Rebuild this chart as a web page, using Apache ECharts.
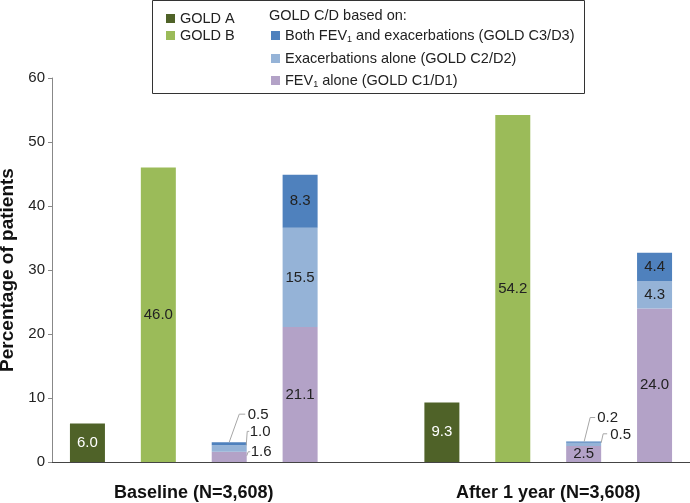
<!DOCTYPE html>
<html><head><meta charset="utf-8">
<script src="https://cdn.jsdelivr.net/npm/echarts@6/dist/echarts.min.js"></script>
<style>html,body{margin:0;padding:0;background:#fff}#c{width:690px;height:503px}</style>
</head><body><div id="c"></div>
<script>
// Categories (slot 4 is an empty spacer between the two groups)
const categories = ['A0','B0','C0','D0','gap','A1','B1','C1','D1'];
const groupLabels = ['', '', 'Baseline (N=3,608)', '', '', '', '', 'After 1 year (N=3,608)', '', ''];
const yTicks = [0, 10, 20, 30, 40, 50, 60];
// Series values
const goldA      = [6.0, null, null, null, null, 9.3, null, null, null];
const goldB      = [null, 46.0, null, null, null, null, 54.2, null, null];
const fev1Alone  = [null, null, 1.6, 21.1, null, null, null, 2.5, 24.0];
const exacAlone  = [null, null, 1.0, 15.5, null, null, null, 0.5, 4.3];
const bothFevExac= [null, null, 0.5, 8.3, null, null, null, 0.2, 4.4];

const nameA = 'GOLD A', nameB = 'GOLD B';
const nameBoth = 'Both FEV1 and exacerbations (GOLD C3/D3)';
const nameExac = 'Exacerbations alone (GOLD C2/D2)';
const nameFev = 'FEV1 alone (GOLD C1/D1)';
const colA = '#4f6228', colB = '#9bbb59', colBoth = '#4f81bd', colExac = '#95b3d7', colFev = '#b3a2c7';

const FONT = 'Liberation Sans, Arial';
const fmt = p => p.value == null ? '' : Number(p.value).toFixed(1);
const lbl = {show:true, position:'inside', color:'#222', fontSize:15, fontFamily:FONT, formatter: fmt};
const outside = {position:'right', distance:0};

// Label shifts for the small GOLD C bars (outside labels)
const moves = {
  fev1: {2:{dx:4, dy:-5}},
  exac: {2:{dx:3, dy:-17}, 7:{dx:9, dy:-10}},
  both: {2:{dx:1, dy:-29}, 7:{dx:-4, dy:-24}}
};
// Leader-line layout (pixel offsets from the top-centre of each segment)
const leaderLayout = {
  '2-fev1': [[17.5,4],[19,0],[21,0]],
  '2-exac': [[17,0],[18,-14],[20,-14]],
  '2-both': [[0,0],[10,-28],[16,-28]],
  '7-exac': [[17.5,0],[19.5,-9],[23.5,-9]],
  '7-both': [[0.5,0],[6.5,-24],[11.5,-24]]
};
function items(arr, outsideIdx) {
  return arr.map((v, i) => {
    if (v == null) return null;
    if (outsideIdx.includes(i)) return {value: v, label: outside};
    return v;
  });
}
function layoutFn(key) {
  return function(p) {
    const m = moves[key][p.dataIndex];
    return m ? {dx: m.dx, dy: m.dy} : {};
  };
}
// Leader data: [categoryIndex, stacked top value of the segment, key]
const leaderData = [];
[2, 7].forEach(i => {
  const tF = fev1Alone[i], tE = tF + exacAlone[i], tB = tE + bothFevExac[i];
  [['fev1', tF], ['exac', tE], ['both', tB]].forEach(([k, t]) => {
    if (leaderLayout[i + '-' + k]) leaderData.push([i, t, i + '-' + k]);
  });
});

const chart = echarts.init(document.getElementById('c'), null, {renderer:'canvas'});
const LF = 14.5;
const legendText = {fontSize:LF, color:'#222', fontFamily:FONT,
  rich:{t:{fontSize:LF, color:'#222', fontFamily:FONT}, s:{fontSize:9, color:'#222', fontFamily:FONT, padding:[8,0,0,0]}}};
function legendFmt(name) {
  if (name.indexOf('FEV1') >= 0) {
    const parts = name.split('FEV1');
    return '{t|' + parts[0] + 'FEV}{s|1}{t|' + parts[1] + '}';
  }
  return name;
}
chart.setOption({
  animation:false,
  grid:{left:52, right:0, top:78, bottom:41, containLabel:false, outerBoundsMode:'none'},
  legend:[
    {data:[nameA, nameB], orient:'vertical', left:161, top:6, itemWidth:9, itemHeight:9, itemGap:2,
     icon:'rect', textStyle:legendText, selectedMode:false},
    {data:[nameBoth, nameExac, nameFev], orient:'vertical', left:266, top:23, itemWidth:9, itemHeight:9, itemGap:7,
     icon:'rect', textStyle:legendText, formatter: legendFmt, selectedMode:false}
  ],
  graphic:[
    {type:'rect', shape:{x:152.5, y:0.5, width:432, height:93}, style:{fill:'none', stroke:'#333', lineWidth:1}, silent:true},
    {type:'text', left:269, top:8, style:{text:'GOLD C/D based on:', fontSize:LF, fill:'#222', fontFamily:FONT}}
  ],
  xAxis:[
    {type:'category', data:categories, axisLine:{lineStyle:{color:'#444'}}, axisTick:{show:false}, axisLabel:{show:false}},
    {type:'category', data:groupLabels, position:'bottom', boundaryGap:false, axisLine:{show:false}, axisTick:{show:false},
     axisLabel:{interval:0, margin:22, fontSize:18, fontWeight:'bold', color:'#111', fontFamily:FONT}}
  ],
  yAxis:{type:'value', min:yTicks[0], max:yTicks[yTicks.length-1], interval:10,
    axisLine:{show:true, lineStyle:{color:'#888'}}, axisTick:{show:true, length:4, lineStyle:{color:'#888'}},
    splitLine:{show:false}, axisLabel:{fontSize:15, color:'#222', margin:7, fontFamily:FONT},
    name:'Percentage of patients', nameLocation:'middle', nameGap:33,
    nameTextStyle:{fontSize:19, fontWeight:'bold', color:'#111', fontFamily:FONT}},
  series:[
    {name:nameA, type:'bar', stack:'s', barWidth:35, data:goldA, itemStyle:{color:colA}, label:Object.assign({}, lbl, {color:'#fff'})},
    {name:nameB, type:'bar', stack:'s', barWidth:35, data:goldB, itemStyle:{color:colB}, label:lbl},
    {name:nameFev, type:'bar', stack:'s', barWidth:35, data:items(fev1Alone,[2]), itemStyle:{color:colFev}, label:lbl, labelLayout:layoutFn('fev1')},
    {name:nameExac, type:'bar', stack:'s', barWidth:35, data:items(exacAlone,[2,7]), itemStyle:{color:colExac}, label:lbl, labelLayout:layoutFn('exac')},
    {name:nameBoth, type:'bar', stack:'s', barWidth:35, data:items(bothFevExac,[2,7]), itemStyle:{color:colBoth}, label:lbl, labelLayout:layoutFn('both')},
    {name:'leaders', type:'custom', xAxisIndex:0, data:leaderData, z:5, silent:true,
     renderItem: function(params, api) {
       const p = api.coord([api.value(0), api.value(1)]);
       const key = leaderData[params.dataIndex][2];
       const pts = leaderLayout[key].map(o => [p[0] + o[0], p[1] + o[1]]);
       return {type:'polyline', shape:{points:pts}, style:{stroke:'#a6a6a6', lineWidth:1, fill:null}};
     }}
  ]
});
</script></body></html>
